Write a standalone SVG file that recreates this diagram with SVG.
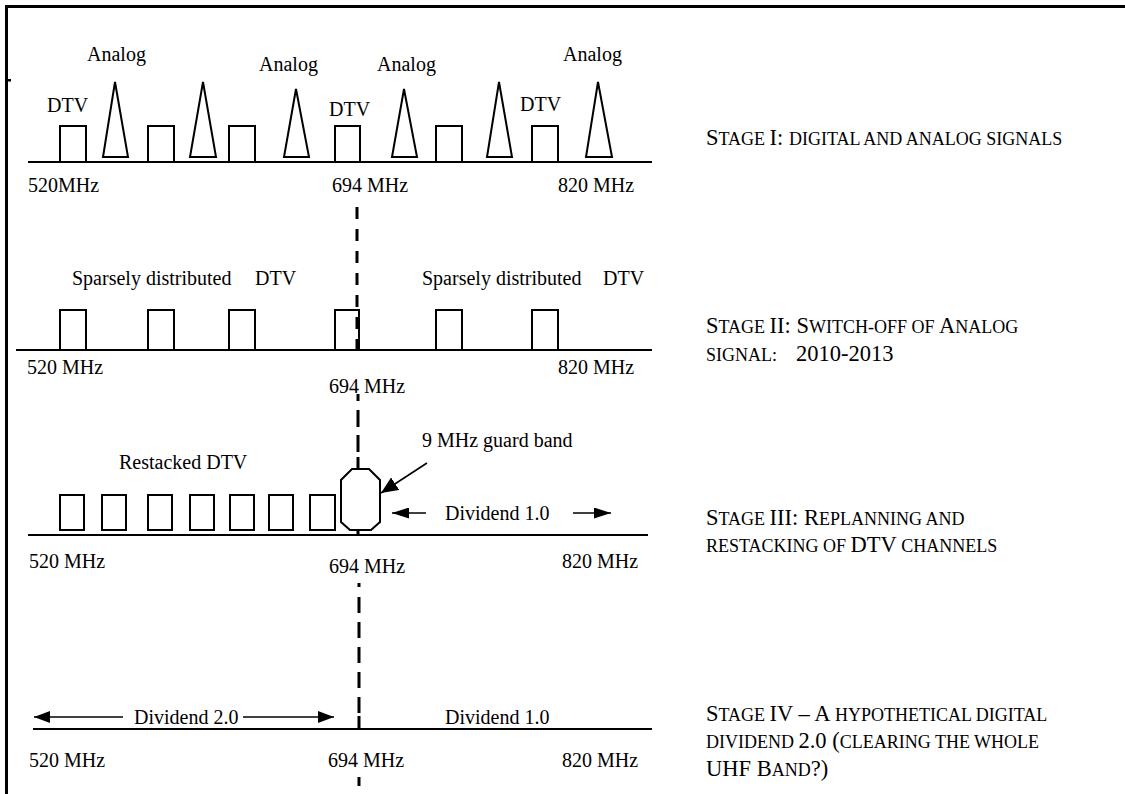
<svg xmlns="http://www.w3.org/2000/svg" width="1125" height="794" viewBox="0 0 1125 794">
<style>
text{font-family:"Liberation Serif","Times New Roman",serif;fill:#000}
.lbl{font-size:20px}
.b{font-size:22.5px}
.s{font-size:18px}
.sh{fill:none;stroke:#000;stroke-width:2}
.axis{stroke:#000;stroke-width:2.2}
.dash{stroke:#000;stroke-width:3;fill:none}
.arr{stroke:#000;stroke-width:1.6;fill:none}
</style>
<defs>
<marker id="ah" viewBox="0 0 16 12" refX="16" refY="6" markerWidth="16" markerHeight="12" markerUnits="userSpaceOnUse" orient="auto">
<path d="M0,0 L16,6 L0,12 z" fill="#000"/>
</marker>
<marker id="ahs" viewBox="0 0 17 11" refX="17" refY="5.5" markerWidth="17" markerHeight="11" markerUnits="userSpaceOnUse" orient="auto">
<path d="M0,0 L17,5.5 L0,11 z" fill="#000"/>
</marker>
<marker id="ahg" viewBox="0 0 17 15" refX="17" refY="7.5" markerWidth="17" markerHeight="15" markerUnits="userSpaceOnUse" orient="auto">
<path d="M0,0 L17,7.5 L0,15 z" fill="#000"/>
</marker>
</defs>
<rect width="1125" height="794" fill="#fff"/>
<g id="frame">
<line x1="5" y1="6.5" x2="1125" y2="6.5" stroke="#000" stroke-width="3"/>
<line x1="6.5" y1="5" x2="6.5" y2="794" stroke="#000" stroke-width="3"/>
<rect x="7" y="79" width="4" height="2.5" fill="#000"/>
</g>

<g id="stage1">
<line class="axis" x1="28" y1="162" x2="652" y2="162"/>
<g id="s1-boxes">
<rect class="sh" x="60" y="126" width="26" height="36"/>
<rect class="sh" x="148" y="126" width="26" height="36"/>
<rect class="sh" x="229" y="126" width="26" height="36"/>
<rect class="sh" x="335" y="126" width="25" height="36"/>
<rect class="sh" x="436" y="126" width="26" height="36"/>
<rect class="sh" x="532" y="126" width="26" height="36"/>
</g>
<g id="s1-analog">
<polygon class="sh" points="103,157 128,157 115,82"/>
<polygon class="sh" points="190,157 216,157 203,82"/>
<polygon class="sh" points="284,157 309,157 296,89"/>
<polygon class="sh" points="392,157 417,157 404,89"/>
<polygon class="sh" points="487,157 512,157 499,82"/>
<polygon class="sh" points="586,157 612,157 598,82"/>
</g>
<text class="lbl" x="87" y="61">Analog</text>
<text class="lbl" x="259" y="71">Analog</text>
<text class="lbl" x="377" y="71">Analog</text>
<text class="lbl" x="563" y="61">Analog</text>
<text class="lbl" x="47" y="112">DTV</text>
<text class="lbl" x="329" y="116">DTV</text>
<text class="lbl" x="520" y="111">DTV</text>
<text class="lbl" x="28" y="192">520MHz</text>
<text class="lbl" x="332" y="192">694 MHz</text>
<text class="lbl" x="558" y="192">820 MHz</text>
<text x="706" y="145"><tspan class="b">S</tspan><tspan class="s">TAGE </tspan><tspan class="b">I: </tspan><tspan class="s">DIGITAL AND ANALOG SIGNALS</tspan></text>
</g>

<g id="stage2">
<line class="axis" x1="16" y1="350" x2="652" y2="350"/>
<rect class="sh" x="60" y="310" width="26" height="40"/>
<rect class="sh" x="148" y="310" width="26" height="40"/>
<rect class="sh" x="229" y="310" width="26" height="40"/>
<rect class="sh" x="335" y="310" width="24" height="40"/>
<rect class="sh" x="436" y="310" width="26" height="40"/>
<rect class="sh" x="532" y="310" width="26" height="40"/>
<text class="lbl" x="72" y="285">Sparsely distributed <tspan x="255">DTV</tspan></text>
<text class="lbl" x="422" y="285">Sparsely distributed <tspan x="603">DTV</tspan></text>
<text class="lbl" x="27" y="374">520 MHz</text>
<text class="lbl" x="329" y="393">694 MHz</text>
<text class="lbl" x="558" y="374">820 MHz</text>
<text x="706" y="333"><tspan class="b">S</tspan><tspan class="s">TAGE </tspan><tspan class="b">II: S</tspan><tspan class="s">WITCH-OFF OF </tspan><tspan class="b">A</tspan><tspan class="s">NALOG</tspan></text>
<text x="706" y="361"><tspan class="s">SIGNAL:</tspan> <tspan class="b" x="796">2010-2013</tspan></text>
</g>

<g id="stage3">
<line class="axis" x1="28" y1="535" x2="648" y2="535"/>
<rect class="sh" x="60" y="495" width="24" height="35"/>
<rect class="sh" x="102" y="495" width="24" height="35"/>
<rect class="sh" x="148" y="495" width="24" height="35"/>
<rect class="sh" x="190" y="495" width="24" height="35"/>
<rect class="sh" x="230" y="495" width="24" height="35"/>
<rect class="sh" x="269" y="495" width="24" height="35"/>
<rect class="sh" x="310" y="495" width="25" height="35"/>
<polygon id="guard-band" class="sh" points="352,469 369,469 380,480 380,522 371,530 350,530 341,522 341,480"/>
<text class="lbl" x="119" y="469">Restacked DTV</text>
<text class="lbl" x="422" y="447">9 MHz guard band</text>
<text class="lbl" x="445" y="520">Dividend 1.0</text>
<text class="lbl" x="29" y="568">520 MHz</text>
<text class="lbl" x="329" y="573">694 MHz</text>
<text class="lbl" x="562" y="568">820 MHz</text>
<text x="706" y="525"><tspan class="b">S</tspan><tspan class="s">TAGE </tspan><tspan class="b">III: R</tspan><tspan class="s">EPLANNING AND</tspan></text>
<text x="706" y="552"><tspan class="s">RESTACKING OF </tspan><tspan class="b">DTV</tspan><tspan class="s"> CHANNELS</tspan></text>
</g>

<g id="stage4">
<line class="axis" x1="33" y1="729" x2="652" y2="729"/>
<text class="lbl" x="134" y="724">Dividend 2.0</text>
<text class="lbl" x="445" y="724">Dividend 1.0</text>
<text class="lbl" x="29" y="767">520 MHz</text>
<text class="lbl" x="328" y="767">694 MHz</text>
<text class="lbl" x="562" y="767">820 MHz</text>
<text x="706" y="721"><tspan class="b">S</tspan><tspan class="s">TAGE </tspan><tspan class="b">IV – A</tspan><tspan class="s"> HYPOTHETICAL DIGITAL</tspan></text>
<text x="706" y="748"><tspan class="s">DIVIDEND </tspan><tspan class="b">2.0 (</tspan><tspan class="s">CLEARING THE WHOLE</tspan></text>
<text x="706" y="776"><tspan class="b">UHF B</tspan><tspan class="s">AND</tspan><tspan class="b">?)</tspan></text>
</g>

<g id="connectors">
<path class="dash" d="M357,207 V353" stroke-dasharray="12 10"/>
<path class="dash" d="M358,394 V457" stroke-dasharray="7 9 17 8 17 7"/>
<line class="dash" x1="358" y1="457" x2="358" y2="469"/>
<line class="dash" x1="358" y1="530" x2="358" y2="536"/>
<path class="dash" d="M359,583 V716" stroke-dasharray="4 10 16 9 16 9 16 9 16 9 16 9"/>
<line class="dash" x1="359" y1="716" x2="359" y2="730"/>
<line class="dash" x1="359" y1="777" x2="359" y2="786"/>
<line class="arr" x1="427" y1="463" x2="381" y2="493" stroke-width="1" marker-end="url(#ahg)"/>
<line class="arr" x1="426" y1="513" x2="392" y2="513" stroke-width="2" marker-end="url(#ahs)"/>
<line class="arr" x1="573" y1="513" x2="611" y2="513" stroke-width="2" marker-end="url(#ahs)"/>
<line class="arr" x1="123" y1="717" x2="34" y2="717" marker-end="url(#ah)"/>
<line class="arr" x1="243" y1="717" x2="334" y2="717" marker-end="url(#ah)"/>
</g>
</svg>
